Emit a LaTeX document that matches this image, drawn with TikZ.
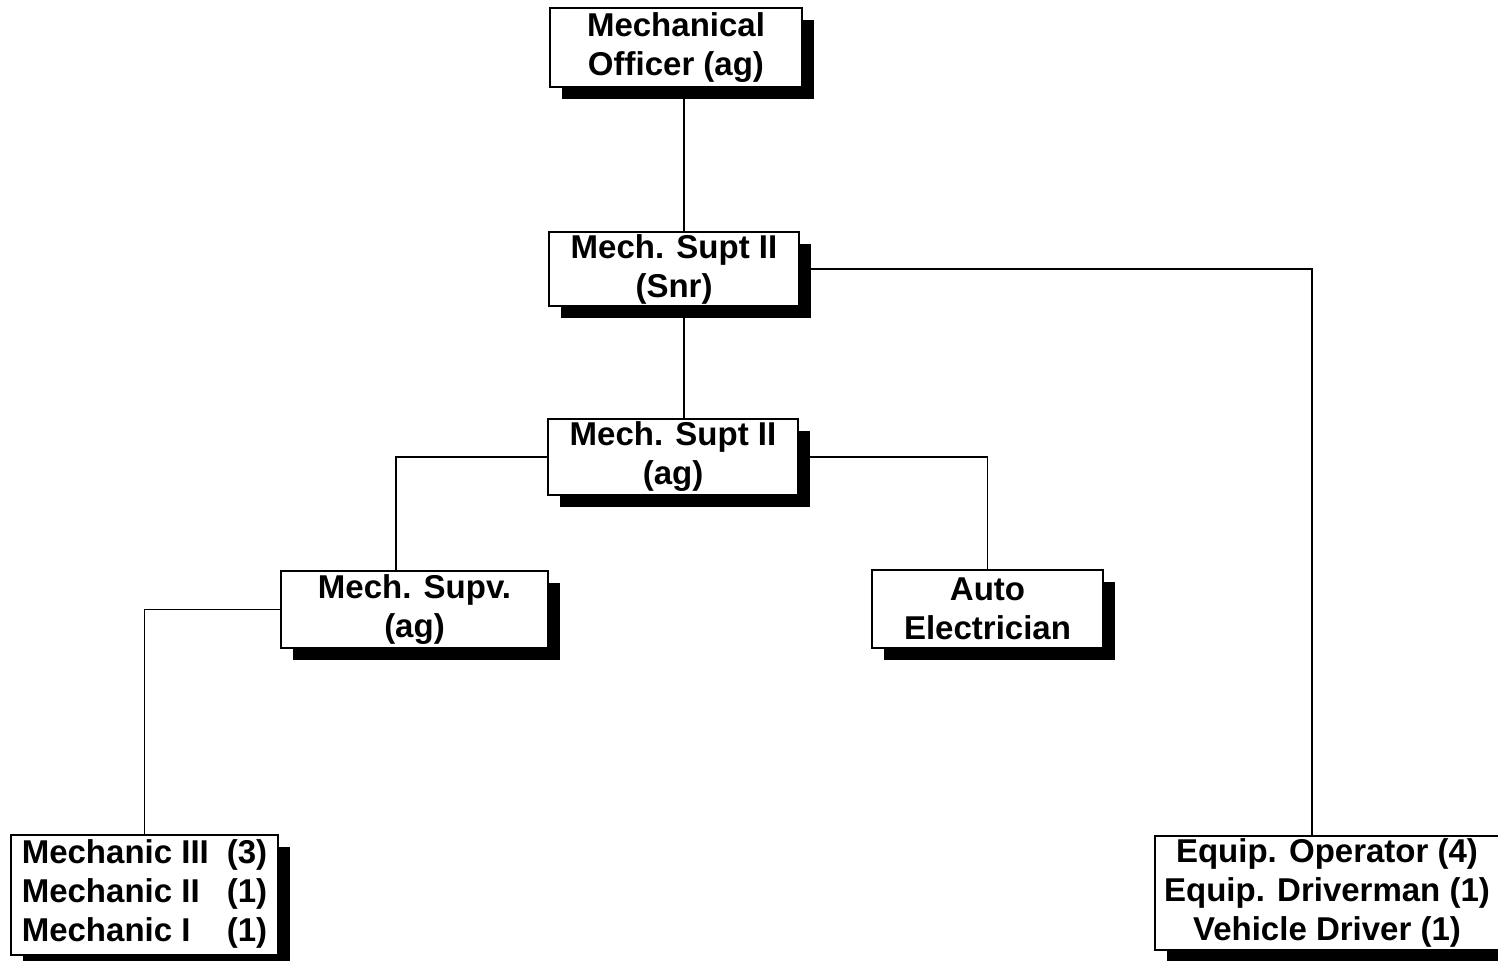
\documentclass[tikz,border=0pt]{standalone}
\usepackage{fontspec}
\setmainfont{Liberation Sans}
\usetikzlibrary{shadows}
\begin{document}
\begin{tikzpicture}[x=0.5pt,y=-0.5pt,
  post/.style={draw=black, line width=0.6pt, fill=white, inner sep=0pt, align=center,
    font=\fontsize{16.5}{19.5}\selectfont\bfseries,
    drop shadow={shadow xshift=6pt, shadow yshift=-6pt, fill=black, opacity=1}},
  link/.style={draw=black, line width=0.8pt}]
\useasboundingbox (0,0) rectangle (1498,960);
\node[post, minimum width=126pt, minimum height=39.5pt] (off) at (676,47.5) {Mechanical\\Officer (ag)};
\node[post, minimum width=125pt, minimum height=37pt] (snr) at (674,269) {Mech. Supt II\\(Snr)};
\node[post, minimum width=125pt, minimum height=38pt] (ag) at (673,457) {Mech. Supt II\\(ag)};
\node[post, minimum width=133.5pt, minimum height=38.5pt] (supv) at (414.5,609.5) {Mech. Supv.\\(ag)};
\node[post, minimum width=115.5pt, minimum height=39pt] (auto) at (987.5,609) {Auto\\Electrician};
\node[post, minimum width=133.5pt, minimum height=60pt] (mech) at (144.5,895)
  {\renewcommand{\arraystretch}{1}\begin{tabular}{@{}l@{\hspace{9pt}}r@{}}Mechanic III&(3)\\Mechanic II&(1)\\Mechanic I&(1)\end{tabular}};
\node[post, minimum width=172pt, minimum height=57pt] (equip) at (1327,893) {Equip. Operator (4)\\Equip. Driverman (1)\\Vehicle Driver (1)};
\coordinate (c1) at ([xshift=4pt]off.south);
\coordinate (c2) at ([xshift=5pt]snr.south);
\coordinate (c3) at ([xshift=-9.25pt]supv.north);
\coordinate (c4) at ([xshift=-7.5pt]equip.north);
\draw[link] (c1) -- (c1 |- snr.north);
\draw[link] (c2) -- (c2 |- ag.north);
\draw[link] (snr.east) -| (c4);
\draw[link] (ag.west) -| (c3);
\draw[link] (ag.east) -| (auto.north);
\draw[link] (supv.west) -| (mech.north);
\end{tikzpicture}
\end{document}
